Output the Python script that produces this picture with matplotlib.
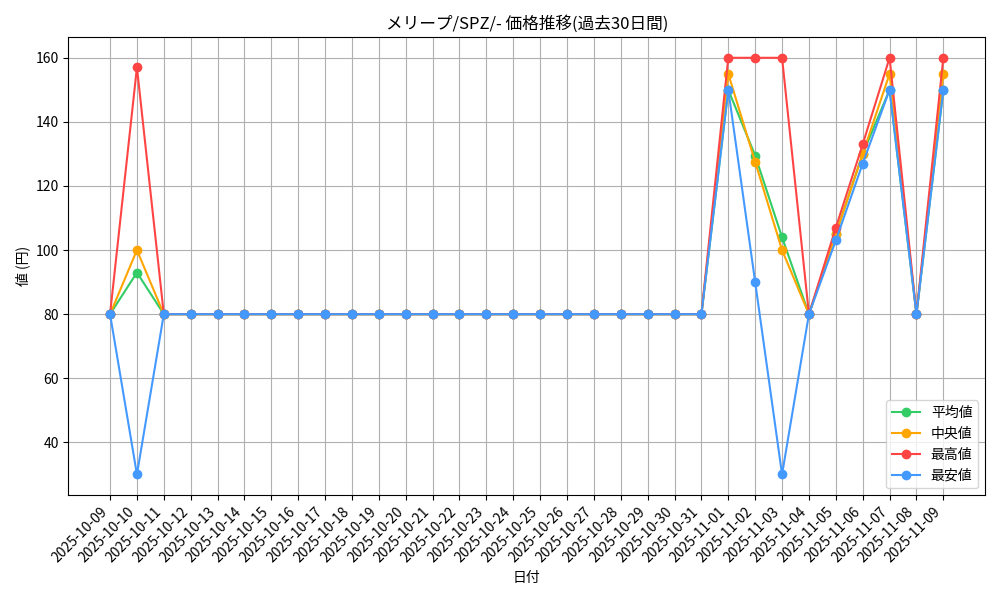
import matplotlib
matplotlib.use("Agg")
import matplotlib.pyplot as plt
import pandas as pd

plt.rcParams['font.family'] = ['Noto Sans CJK JP', 'DejaVu Sans']

dates = [d.strftime('%Y-%m-%d') for d in pd.date_range('2025-10-09', '2025-11-09')]
n_flat = 23  # 10-11 .. 10-31 plus first
avg = [80, 93] + [80]*21 + [150, 129.5, 104, 80, 105, 130, 150, 80, 150]
med = [80, 100] + [80]*21 + [155, 127.5, 100, 80, 105, 130, 155, 80, 155]
mx = [80, 157] + [80]*21 + [160, 160, 160, 80, 107, 133, 160, 80, 160]
mn = [80, 30] + [80]*21 + [150, 90, 30, 80, 103, 127, 150, 80, 150]

fig, ax = plt.subplots(figsize=(10, 6), dpi=100)
x = range(len(dates))
ax.plot(x, avg, marker='o', color='#33cc66', label='平均値')
ax.plot(x, med, marker='o', color='#ffa500', label='中央値')
ax.plot(x, mx, marker='o', color='#ff4444', label='最高値')
ax.plot(x, mn, marker='o', color='#4499ff', label='最安値')
ax.set_xticks(list(x))
ax.set_xticklabels(dates, rotation=45, ha='right')
ax.set_title('メリープ/SPZ/- 価格推移(過去30日間)')
ax.set_xlabel('日付')
ax.set_ylabel('値 (円)')
ax.grid(True, color='#b0b0b0')
ax.legend(loc='lower right')
fig.tight_layout()
fig.savefig('out.png')
